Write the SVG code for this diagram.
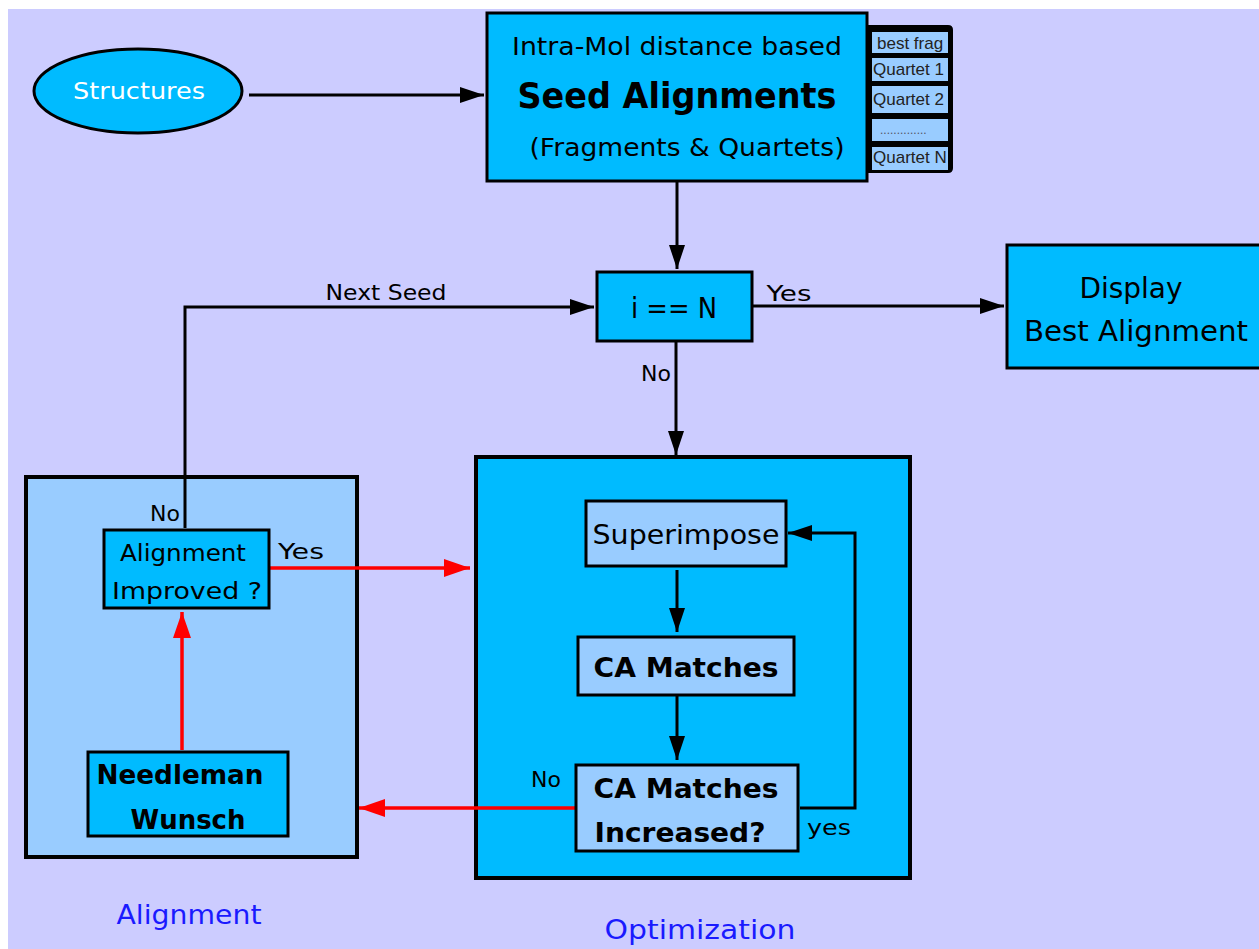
<svg xmlns="http://www.w3.org/2000/svg" width="1259" height="949" viewBox="0 0 1259 949">
<defs>
<marker id="ab" markerWidth="24" markerHeight="18" refX="24" refY="9" orient="auto" markerUnits="userSpaceOnUse"><path d="M0,1 L24,9 L0,17 Z" fill="#000"/></marker>
<marker id="ar" markerWidth="26" markerHeight="20" refX="26" refY="10" orient="auto" markerUnits="userSpaceOnUse"><path d="M0,1 L26,10 L0,19 Z" fill="#ff0000"/></marker>
<style>
text{font-family:"DejaVu Sans","Noto Sans",sans-serif;fill:#000;text-anchor:middle}
.cy{fill:#00bbff;stroke:#000;stroke-width:3}
.lb{fill:#99ccff;stroke:#000;stroke-width:3}
.cell{fill:#99ccff}
.cell-t{font-family:"Liberation Sans",Arial,sans-serif;font-size:17px;fill:#222;text-anchor:start}
.blk{stroke:#000;stroke-width:3;fill:none}
.red{stroke:#ff0000;stroke-width:3.5;fill:none}
.lbl{font-size:22px}
.blue{fill:#1a1aff;font-size:27px}
</style>
</defs>
<rect x="8" y="9" width="1251" height="940" fill="#ccccff"/>

<g id="panel-alignment">
<rect x="26" y="477" width="331" height="380" fill="#99ccff" stroke="#000" stroke-width="4"/>
</g>
<g id="panel-optimization">
<rect x="476" y="457" width="434" height="421" fill="#00bbff" stroke="#000" stroke-width="4"/>
</g>

<g id="connectors">
<line class="blk" x1="249" y1="95" x2="484" y2="95" marker-end="url(#ab)"/>
<line class="blk" x1="677" y1="182" x2="677" y2="269" marker-end="url(#ab)"/>
<line class="blk" x1="753" y1="306" x2="1004" y2="306" marker-end="url(#ab)"/>
<polyline class="blk" points="185,528 185,307 594,307" marker-end="url(#ab)"/>
<line class="blk" x1="676" y1="342" x2="676" y2="455" marker-end="url(#ab)"/>
<line class="red" x1="270" y1="568" x2="470" y2="568" marker-end="url(#ar)"/>
<line class="red" x1="182" y1="750" x2="182" y2="612" marker-end="url(#ar)"/>
<line class="red" x1="575" y1="808" x2="359" y2="808" marker-end="url(#ar)"/>
<line class="blk" x1="677" y1="570" x2="677" y2="632" stroke-width="2.5" marker-end="url(#ab)"/>
<line class="blk" x1="677" y1="696" x2="677" y2="760" stroke-width="2.5" marker-end="url(#ab)"/>
<polyline class="blk" points="800,808 855,808 855,533 788,533" marker-end="url(#ab)"/>
<text class="lbl" x="386" y="300" textLength="121" lengthAdjust="spacingAndGlyphs">Next Seed</text>
<text class="lbl" x="789" y="301" textLength="45" lengthAdjust="spacingAndGlyphs">Yes</text>
<text class="lbl" x="656" y="381">No</text>
<text class="lbl" x="165" y="521">No</text>
<text class="lbl" x="301" y="559" textLength="46" lengthAdjust="spacingAndGlyphs">Yes</text>
<text class="lbl" x="546" y="787">No</text>
<text class="lbl" x="829" y="835" textLength="44" lengthAdjust="spacingAndGlyphs">yes</text>
</g>

<g id="node-structures">
<ellipse cx="138" cy="91" rx="104" ry="42" fill="#00bbff" stroke="#000" stroke-width="3"/>
<text x="139" y="99" style="fill:#fff;font-size:23px" textLength="132" lengthAdjust="spacingAndGlyphs">Structures</text>
</g>

<g id="node-seed">
<rect class="cy" x="487" y="13" width="380" height="168"/>
<text x="677" y="55" style="font-size:24px" textLength="330" lengthAdjust="spacingAndGlyphs">Intra-Mol distance based</text>
<text x="677" y="108" style="font-size:35px;font-weight:bold" textLength="319" lengthAdjust="spacingAndGlyphs">Seed Alignments</text>
<text x="687" y="156" style="font-size:25px" textLength="315" lengthAdjust="spacingAndGlyphs">(Fragments &amp; Quartets)</text>
</g>

<g id="node-seed-list">
<path d="M867,25 L948,25 Q953,25 953,30 L953,168 Q953,173 948,173 L867,173 Z" fill="#000"/>
<rect class="cell" x="872" y="32" width="76" height="21"/>
<rect class="cell" x="872" y="58" width="76" height="23"/>
<rect class="cell" x="872" y="86" width="76" height="27"/>
<rect class="cell" x="872" y="119" width="76" height="22"/>
<rect class="cell" x="872" y="147" width="76" height="23"/>
<svg x="872" y="25" width="76" height="150" overflow="hidden">
<text class="cell-t" x="5" y="24">best frag</text>
<text class="cell-t" x="1" y="50">Quartet 1</text>
<text class="cell-t" x="1" y="80">Quartet 2</text>
<text class="cell-t" x="8" y="109" style="font-size:12px;fill:#556">..............</text>
<text class="cell-t" x="1" y="138">Quartet N</text>
</svg>
</g>

<g id="node-iN">
<rect class="cy" x="597" y="272" width="155" height="69"/>
<text x="674" y="318" style="font-size:29px" textLength="86" lengthAdjust="spacingAndGlyphs">i == N</text>
</g>

<g id="node-display">
<rect class="cy" x="1007" y="245" width="256" height="123"/>
<text x="1131" y="298" style="font-size:28px" textLength="103" lengthAdjust="spacingAndGlyphs">Display</text>
<text x="1136" y="341" style="font-size:28px" textLength="224" lengthAdjust="spacingAndGlyphs">Best Alignment</text>
</g>

<g id="node-improved">
<rect class="cy" x="104" y="530" width="165" height="78"/>
<text x="183" y="561" style="font-size:23px" textLength="126" lengthAdjust="spacingAndGlyphs">Alignment</text>
<text x="187" y="599" style="font-size:23px" textLength="150" lengthAdjust="spacingAndGlyphs">Improved ?</text>
</g>

<g id="node-nw">
<rect class="cy" x="88" y="752" width="200" height="84" stroke-width="4"/>
<text x="180" y="784" style="font-size:27px;font-weight:bold" textLength="167" lengthAdjust="spacingAndGlyphs">Needleman</text>
<text x="188" y="829" style="font-size:27px;font-weight:bold" textLength="115" lengthAdjust="spacingAndGlyphs">Wunsch</text>
</g>

<g id="node-superimpose">
<rect class="lb" x="586" y="501" width="200" height="65"/>
<text x="686" y="544" style="font-size:27px" textLength="187" lengthAdjust="spacingAndGlyphs">Superimpose</text>
</g>

<g id="node-ca">
<rect class="lb" x="578" y="637" width="216" height="58"/>
<text x="686" y="677" style="font-size:27px;font-weight:bold" textLength="185" lengthAdjust="spacingAndGlyphs">CA Matches</text>
</g>

<g id="node-ca-inc">
<rect class="lb" x="576" y="765" width="222" height="86"/>
<text x="686" y="798" style="font-size:27px;font-weight:bold" textLength="185" lengthAdjust="spacingAndGlyphs">CA Matches</text>
<text x="680" y="842" style="font-size:27px;font-weight:bold" textLength="171" lengthAdjust="spacingAndGlyphs">Increased?</text>
</g>

<g id="labels">
<text class="blue" x="189" y="924" textLength="145" lengthAdjust="spacingAndGlyphs">Alignment</text>
<text class="blue" x="700" y="939" textLength="191" lengthAdjust="spacingAndGlyphs">Optimization</text>
</g>
</svg>
